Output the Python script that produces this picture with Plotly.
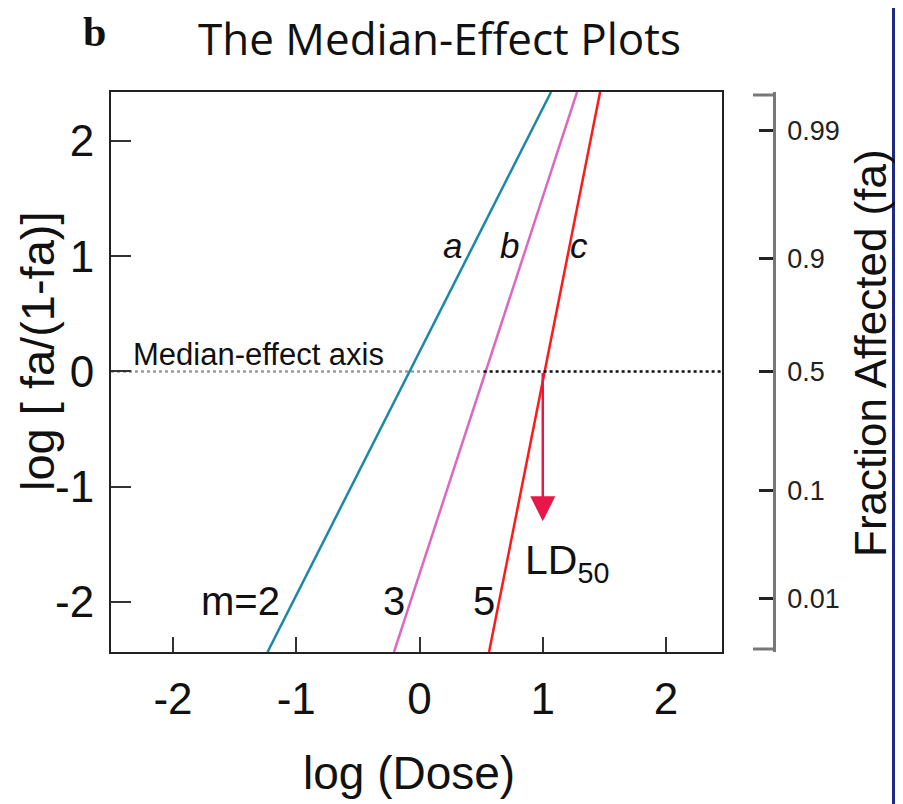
import plotly.graph_objects as go

# ---------------- data ----------------
x_ticks = [-2, -1, 0, 1, 2]
x_ticktext = ["-2", "-1", "0", "1", "2"]
y_ticks = [-2, -1, 0, 1, 2]
y_ticktext = ["-2", "-1", "0", "1", "2"]

# right-hand axis: fraction affected, positions on the logit scale as drawn
fa_tickpos = [2.09, 0.98, 0.0, -1.03, -1.97]
fa_ticktext = ["0.99", "0.9", "0.5", "0.1", "0.01"]

# median-effect lines (log dose, log[fa/(1-fa)]) endpoints as drawn
line_names = ["a", "b", "c"]
line_slopes = ["m=2", "3", "5"]
line_a_x = [-1.233, 1.067]
line_b_x = [-0.207, 1.278]
line_c_x = [0.564, 1.465]
line_y = [-2.434, 2.425]

x_range = [-2.503, 2.454]
y_range = [-2.434, 2.425]

median_split = 0.52   # where the dotted axis turns from grey to black
ld50_x = 1.0
ld50_arrow_end = -1.30

# ---------------- figure ----------------
W, H = 903, 804
OFF = 7                      # page offset of the plot div
L, T = 110 - OFF, 91 - OFF
R = W - (773 - OFF)
B = H - (651 - OFF)
plotw = W - L - R
ploth = H - T - B
x_dom_end = (721 - OFF - L) / plotw


def px(sx):
    return (sx - OFF - L) / plotw


def py(sy):
    return 1 - (sy - OFF - T) / ploth


fig = go.Figure()

colors = ["#1b88aa", "#dc68c4", "#ff1a1a"]
for xs, c, n in zip([line_a_x, line_b_x, line_c_x], colors, line_names):
    fig.add_trace(go.Scatter(x=xs, y=line_y, mode="lines", name=n,
                             line=dict(color=c, width=2.5), showlegend=False,
                             hoverinfo="skip"))

# median-effect axis (dotted)
fig.add_trace(go.Scatter(x=[x_range[0], median_split], y=[0, 0], mode="lines",
                         line=dict(color="#9a9a9a", width=2.5, dash="dot"),
                         showlegend=False, hoverinfo="skip"))
fig.add_trace(go.Scatter(x=[median_split, x_range[1]], y=[0, 0], mode="lines",
                         line=dict(color="#111111", width=2.5, dash="dot"),
                         showlegend=False, hoverinfo="skip"))

# invisible trace to activate right axis
fig.add_trace(go.Scatter(x=[0], y=[0], yaxis="y2", mode="markers",
                         marker=dict(opacity=0), showlegend=False, hoverinfo="skip"))

SANS = "Liberation Sans, Arial"
ann = []
# LD50 arrow
ann.append(dict(x=ld50_x, y=ld50_arrow_end, ax=ld50_x, ay=0, xref="x", yref="y",
                axref="x", ayref="y", text="", showarrow=True, arrowhead=2,
                arrowsize=2.0, arrowwidth=2.5, arrowcolor="#e8174a"))


def txt(x, y, text, size, xref="x", yref="y", family=SANS, angle=0):
    ann.append(dict(x=x, y=y, xref=xref, yref=yref, text=text, showarrow=False,
                    xanchor="center", yanchor="middle", textangle=angle,
                    font=dict(family=family, size=size, color="#111")))


for n, xx in zip(line_names, [0.27, 0.73, 1.29]):
    txt(xx, 1.09, "<i>%s</i>" % n, 35)
for s, xx in zip(line_slopes, [-1.45, -0.21, 0.52]):
    txt(xx, -1.99, s, 40)
txt(-1.31, 0.15, "Median-effect axis", 31)
txt(1.2, -1.66, "LD<sub>50</sub>", 41)

# titles
txt(px(438), py(37), "The Median-Effect Plots", 44, "paper", "paper", family="Open Sans")
txt(px(93), py(31), "<b>b</b>", 42, "paper", "paper", family="Liberation Serif")
txt(px(408), py(772), "log (Dose)", 46, "paper", "paper")
txt(px(36), py(350), "log [ fa/(1-fa)]", 47, "paper", "paper", angle=-90)
txt(px(869), py(352), "Fraction Affected (fa)", 44, "paper", "paper", angle=-90)

shapes = []
# caps on right axis
for yy in [94, 648]:
    shapes.append(dict(type="line", xref="paper", yref="paper",
                       x0=px(752), x1=px(773), y0=py(yy), y1=py(yy),
                       line=dict(color="#777", width=3)))
# navy border on the right edge
shapes.append(dict(type="rect", xref="paper", yref="paper",
                   x0=px(891), x1=px(894), y0=py(0), y1=py(810),
                   line=dict(width=0), fillcolor="#1c2a86"))

tick_font = dict(family=SANS, size=44, color="#111")

fig.update_layout(
    width=W, height=H,
    margin=dict(l=L, r=R, t=T, b=B),
    paper_bgcolor="white", plot_bgcolor="white",
    showlegend=False,
    xaxis=dict(domain=[0, x_dom_end], range=x_range, tickvals=x_ticks,
               ticktext=x_ticktext, ticks="inside", ticklen=15, tickwidth=2,
               tickcolor="#333", showline=True, linecolor="#222", linewidth=2,
               mirror=True, showgrid=False, zeroline=False, tickfont=tick_font,
               ticklabelstandoff=7),
    yaxis=dict(range=y_range, tickvals=y_ticks, ticktext=y_ticktext,
               ticks="inside", ticklen=20, tickwidth=2, tickcolor="#333",
               showline=True, linecolor="#222", linewidth=2, mirror=True,
               showgrid=False, zeroline=False, tickfont=tick_font,
               ticklabelstandoff=6),
    yaxis2=dict(range=y_range, overlaying="y", side="right", anchor="free",
                position=1.0, tickvals=fa_tickpos, ticktext=fa_ticktext,
                ticks="inside", ticklen=14, tickwidth=3, tickcolor="#222",
                showline=True, linecolor="#777", linewidth=2.5, showgrid=False,
                zeroline=False, ticklabelstandoff=6,
                tickfont=dict(family=SANS, size=27, color="#222")),
    annotations=ann, shapes=shapes,
)

fig.write_html("out.html")
